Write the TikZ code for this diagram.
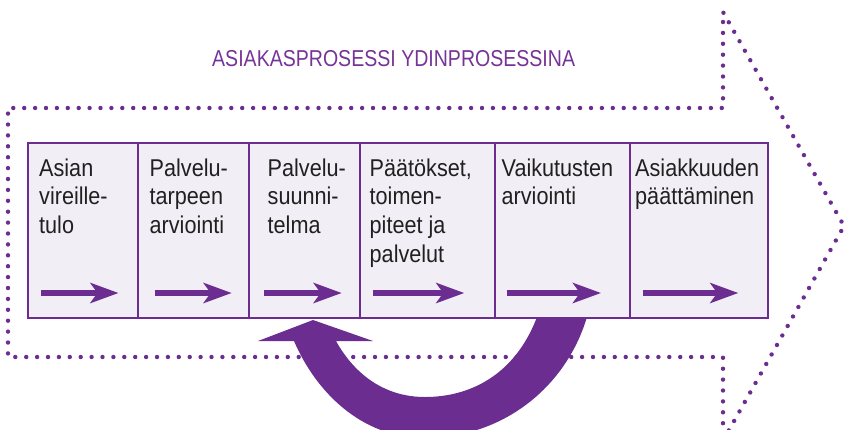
\documentclass[tikz,border=0pt]{standalone}
\usepackage{fontspec}
\usetikzlibrary{arrows.meta}
\newfontfamily\bodyfont{Liberation Sans}[FakeStretch=0.89]
\newfontfamily\headfont{Liberation Sans}[FakeStretch=0.85]
\definecolor{violet}{RGB}{107,45,143}
\definecolor{headviolet}{RGB}{118,52,152}
\definecolor{paleviolet}{RGB}{241,238,246}
\definecolor{ink}{RGB}{35,31,32}
\newcommand\lineup{\rule{0pt}{22pt}}
\tikzset{
  stagebox/.style={draw=violet, line width=1.7pt, fill=paleviolet,
    rectangle, inner sep=0pt, anchor=north west, minimum height=175pt},
  stagetext/.style={anchor=north west, inner sep=0pt, align=left, text=ink,
    font=\bodyfont\fontsize{24.3}{28.7}\selectfont},
  flowarrow/.style={draw=violet, line width=5.2pt,
    -{Stealth[length=28pt,width=20pt,inset=7pt]}},
  dotline/.style={draw=violet, line width=4.4pt, line cap=round,
    dash pattern=on 0pt off 10.9pt}
}
\begin{document}
\begin{tikzpicture}[x=1pt,y=-1pt]
\useasboundingbox (0,0) rectangle (845,429);

% dotted outline of the large process arrow
\draw[dotline] (723,445) -- (723,357) -- (8,357) -- (8,108) -- (723,108)
  -- (723,12) -- (844,226) -- (720,446);

% heading
\node[anchor=base west, inner sep=0pt, text=headviolet,
  font=\headfont\fontsize{23}{27}\selectfont] (title) at (212,66.7)
  {ASIAKASPROSESSI YDINPROSESSINA};

% feedback arrow from the evaluation stage back to planning
\fill[violet] (537,317) -- (587,317)
  .. controls (565,390) and (500,438) .. (425,438)
  .. controls (360,438) and (315,390) .. (294,341)
  -- (258,341) -- (313,320) -- (373,341) -- (336,341)
  .. controls (355,375) and (385,397) .. (425,397)
  .. controls (470,397) and (515,375) .. (537,317) -- cycle;

% stage boxes
\node[stagebox, minimum width=110pt] (b1) at (27,142) {};
\node[stagebox, minimum width=111pt] (b2) at (137,142) {};
\node[stagebox, minimum width=111pt] (b3) at (248,142) {};
\node[stagebox, minimum width=135pt] (b4) at (359,142) {};
\node[stagebox, minimum width=135pt] (b5) at (494,142) {};
\node[stagebox, minimum width=138pt] (b6) at (629,142) {};

% stage labels
\node[stagetext] (t1) at (39,154) {\lineup Asian\\vireille-\\tulo};
\node[stagetext] (t2) at (149.5,154) {\lineup Palvelu-\\tarpeen\\arviointi};
\node[stagetext] (t3) at (267.5,154) {\lineup Palvelu-\\suunni-\\telma};
\node[stagetext] (t4) at (369.5,154) {\lineup Päätökset,\\toimen-\\piteet ja\\palvelut};
\node[stagetext] (t5) at (501.5,154) {\lineup Vaikutusten\\arviointi};
\node[stagetext] (t6) at (635,154) {\lineup Asiakkuuden\\päättäminen};

% arrows inside the stages
\coordinate (s1) at (41,293);    \coordinate (e1) at (118.5,293);
\coordinate (s2) at (154.6,293); \coordinate (e2) at (231.7,293);
\coordinate (s3) at (264,293);   \coordinate (e3) at (341.7,293);
\coordinate (s4) at (373.3,293); \coordinate (e4) at (464.3,293);
\coordinate (s5) at (506.7,293); \coordinate (e5) at (601,293);
\coordinate (s6) at (642.7,293); \coordinate (e6) at (738.3,293);
\foreach \i in {1,...,6} \draw[flowarrow] (s\i) -- (e\i);
\end{tikzpicture}
\end{document}
